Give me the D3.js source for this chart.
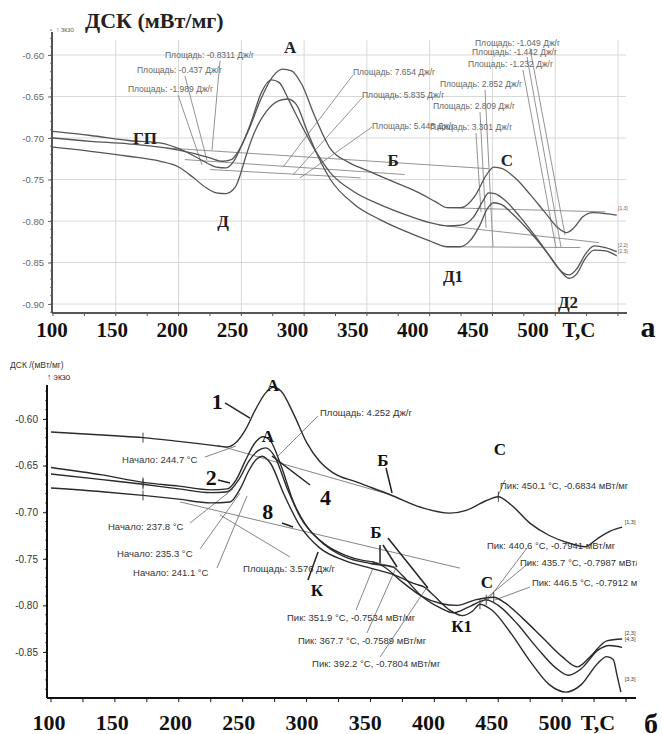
<!DOCTYPE html>
<html>
<head>
<meta charset="utf-8">
<script src="https://cdn.jsdelivr.net/npm/d3@7"></script>
<style>
  body { margin: 0; background: #fff; }
  svg { display: block; }
</style>
</head>
<body>
<svg id="chart" width="662" height="734"></svg>
<script>
// ---------- panel а (top) ----------
var topTicksT = [100, 150, 200, 250, 300, 350, 400, 450, 500];
var topTicksV = [-0.60, -0.65, -0.70, -0.75, -0.80, -0.85, -0.90];

var topCurveHi = [[100,-0.700],[130,-0.704],[160,-0.707],[190,-0.712],[210,-0.718],[225,-0.724],[235,-0.728],[242,-0.726],[248,-0.715],[256,-0.69],[265,-0.655],[275,-0.626],[283,-0.617],[290,-0.619],[298,-0.635],[308,-0.672],[321,-0.713],[335,-0.729],[350,-0.739],[370,-0.752],[390,-0.765],[405,-0.777],[414,-0.784],[425,-0.784],[436,-0.77],[445,-0.745],[451,-0.735],[458,-0.737],[468,-0.748],[480,-0.768],[492,-0.79],[502,-0.808],[509,-0.814],[515,-0.808],[522,-0.795],[530,-0.79],[540,-0.791],[549,-0.793]];
var topCurveMid = [[100,-0.692],[130,-0.697],[160,-0.703],[185,-0.706],[205,-0.716],[220,-0.728],[230,-0.735],[238,-0.736],[244,-0.728],[250,-0.71],[258,-0.68],[266,-0.645],[274,-0.630],[280,-0.633],[288,-0.655],[298,-0.685],[310,-0.718],[321,-0.742],[340,-0.765],[360,-0.78],[380,-0.792],[400,-0.802],[414,-0.806],[425,-0.805],[435,-0.795],[442,-0.777],[447,-0.766],[452,-0.767],[460,-0.775],[472,-0.795],[485,-0.82],[497,-0.845],[506,-0.862],[511,-0.865],[517,-0.858],[524,-0.84],[531,-0.83],[540,-0.832],[549,-0.837]];
var topCurveLow = [[100,-0.711],[130,-0.716],[160,-0.722],[185,-0.728],[200,-0.735],[212,-0.748],[222,-0.760],[230,-0.766],[238,-0.767],[243,-0.763],[246,-0.757],[249,-0.745],[253,-0.725],[260,-0.695],[270,-0.668],[280,-0.655],[287,-0.653],[294,-0.66],[302,-0.69],[312,-0.725],[321,-0.75],[340,-0.78],[360,-0.798],[380,-0.812],[400,-0.824],[414,-0.831],[424,-0.831],[432,-0.824],[440,-0.805],[446,-0.785],[451,-0.778],[457,-0.78],[465,-0.79],[478,-0.81],[492,-0.835],[503,-0.858],[511,-0.869],[517,-0.864],[524,-0.845],[531,-0.835],[540,-0.836],[549,-0.842]];

// integration baselines and leader lines [T1, v1, T2, v2]
var topGuides = [
  [190,-0.712,447,-0.737],[205,-0.726,380,-0.744],[225,-0.738,345,-0.748],
  [414,-0.784,540,-0.789],[414,-0.806,535,-0.826],[414,-0.831,520,-0.832],
  [233,-0.607,226.6,-0.7145],[205.1,-0.6253,222.6,-0.7265],[199.6,-0.6482,218.7,-0.7325],
  [338.9,-0.6241,283.2,-0.735],[346.1,-0.6518,291.1,-0.7446],[354.1,-0.6867,296.7,-0.7482],
  [444.1,-0.6422,450.4,-0.8313],[440.1,-0.6687,444.9,-0.8084],[436.9,-0.694,440.9,-0.7892],
  [479.9,-0.5916,507.8,-0.8169],[477.5,-0.6024,504.6,-0.8313],[474.3,-0.6181,500.6,-0.8325]
];
var topAreaText = ["Площадь: -0.8311 Дж/г","Площадь: -0.437 Дж/г","Площадь: -1.989 Дж/г",
  "Площадь: 7.654 Дж/г","Площадь: 5.835 Дж/г","Площадь: 5.445 Дж/г","Площадь: 3.301 Дж/г",
  "Площадь: 2.852 Дж/г","Площадь: 2.809 Дж/г",
  "Площадь: -1.049 Дж/г","Площадь: -1.442 Дж/г","Площадь: -1.232 Дж/г"];
var topAreaPos = [[189.2,-0.6036],[166.9,-0.6217],[159.7,-0.6446],
  [338.9,-0.6241],[346.1,-0.6518],[354.1,-0.6892],[400.3,-0.6904],
  [408.2,-0.6386],[402.6,-0.6651],
  [436.1,-0.5892],[433.7,-0.6000],[430.5,-0.6145]];
var topBigText = ["А","ГП","Б","С","Д","Д1","Д2"];
var topBigPos = [[288.8,-0.5904],[173.3,-0.700],[370.8,-0.7265],[461.6,-0.7265],[235.4,-0.800],[418.6,-0.8663],[510.2,-0.8976]];
var topEndText = ["[1,3]","[2,2]","[2,3]"];
var topEndPos = [[550,-0.787],[550,-0.831],[550,-0.838]];

// ---------- panel б (bottom) ----------
var botTicksT = [100, 150, 200, 250, 300, 350, 400, 450, 500];
var botTicksV = [-0.60, -0.65, -0.70, -0.75, -0.80, -0.85];

var botCurve1 = [[100,-0.614],[150,-0.618],[172,-0.620],[200,-0.624],[225,-0.628],[238,-0.630],[245,-0.625],[252,-0.612],[260,-0.590],[268,-0.572],[274,-0.566],[280,-0.570],[290,-0.595],[300,-0.625],[310,-0.645],[320,-0.657],[340,-0.668],[365,-0.681],[390,-0.695],[412,-0.701],[425,-0.698],[440,-0.688],[450,-0.6834],[460,-0.692],[475,-0.712],[490,-0.725],[505,-0.733],[518,-0.737],[528,-0.728],[538,-0.72],[547,-0.716]];
var botCurve2 = [[100,-0.652],[140,-0.660],[172,-0.668],[200,-0.672],[225,-0.676],[238,-0.675],[245,-0.665],[252,-0.645],[260,-0.625],[266,-0.619],[272,-0.624],[280,-0.65],[290,-0.69],[300,-0.715],[315,-0.735],[330,-0.746],[345,-0.752],[352,-0.7534],[360,-0.758],[375,-0.775],[390,-0.79],[405,-0.798],[418,-0.800],[432,-0.794],[446.5,-0.7912],[455,-0.797],[470,-0.815],[485,-0.835],[500,-0.855],[512,-0.866],[522,-0.855],[535,-0.838],[547,-0.836]];
var botCurve4 = [[100,-0.659],[140,-0.665],[172,-0.670],[200,-0.675],[225,-0.679],[238,-0.678],[247,-0.665],[255,-0.645],[262,-0.634],[268,-0.631],[275,-0.64],[285,-0.675],[295,-0.705],[310,-0.73],[330,-0.748],[350,-0.755],[367.7,-0.7589],[375,-0.768],[390,-0.79],[405,-0.803],[415,-0.808],[428,-0.801],[440.6,-0.7941],[450,-0.80],[465,-0.82],[480,-0.845],[495,-0.867],[505,-0.875],[515,-0.868],[528,-0.848],[537,-0.843],[547,-0.845]];
var botCurve8 = [[100,-0.674],[140,-0.678],[172,-0.682],[200,-0.686],[225,-0.690],[240,-0.689],[248,-0.675],[255,-0.655],[261,-0.643],[265,-0.640],[272,-0.648],[282,-0.68],[295,-0.715],[310,-0.738],[330,-0.752],[350,-0.760],[370,-0.768],[385,-0.777],[392.2,-0.7804],[400,-0.79],[412,-0.805],[422,-0.811],[430,-0.806],[435.7,-0.7987],[445,-0.805],[460,-0.83],[475,-0.86],[490,-0.885],[503,-0.893],[515,-0.885],[528,-0.862],[535,-0.855],[540,-0.858],[543,-0.875],[546,-0.893]];

var botGuides = [
  [230,-0.628,365,-0.681],[201,-0.689,420,-0.760],[352,-0.7534,370,-0.759],
  [220.5,-0.6408,244.8,-0.629],[208.8,-0.7116,242.4,-0.6751],[216.6,-0.7395,247.9,-0.6794],[229.9,-0.76,253.4,-0.6826],
  [308.9,-0.5968,276.9,-0.6408],[287,-0.748,232.3,-0.703],
  [455.3,-0.6654,449.8,-0.6826],
  [472.5,-0.7384,441.2,-0.7953],[474.9,-0.7534,436.1,-0.7974],[474.9,-0.7803,447.3,-0.7942],
  [338.7,-0.805,352.0,-0.7599],[347.3,-0.8296,369.2,-0.762],[357.5,-0.8554,394.3,-0.7803]
];
var botDarkGuides = [
  [236.2,-0.5828,255.7,-0.599],[230.7,-0.6654,240.1,-0.6686],[302.7,-0.6708,272.9,-0.6397],[280.8,-0.7116,289.4,-0.7159],
  [362.2,-0.6526,366.9,-0.6794],[357.5,-0.7352,357.5,-0.7545],[359.8,-0.7352,370.8,-0.7588],[363.7,-0.7277,395.0,-0.7813],
  [301.1,-0.7727,309.0,-0.7427]
];
var botNoteText = ["Начало: 244.7 °C","Начало: 237.8 °C","Начало: 235.3 °C","Начало: 241.1 °C",
  "Площадь: 4.252 Дж/г","Площадь: 3.576 Дж/г",
  "Пик: 450.1 °C, -0.6834 мВт/мг","Пик: 440.6 °C, -0.7941 мВт/мг","Пик: 435.7 °C, -0.7987 мВт/мг","Пик: 446.5 °C, -0.7912 мВт/мг",
  "Пик: 351.9 °C, -0.7534 мВт/мг","Пик: 367.7 °C, -0.7589 мВт/мг","Пик: 392.2 °C, -0.7804 мВт/мг"];
var botNotePos = [[155.6,-0.6472],[144.6,-0.7191],[151.7,-0.7481],[164.2,-0.7685],
  [310.5,-0.5968],[250.3,-0.7642],
  [451.4,-0.6751],[441.2,-0.7395],[467.0,-0.7577],[476.4,-0.7792],
  [284.7,-0.8167],[293.3,-0.8414],[304.3,-0.8661]];
var botBigText = ["А","А","1","2","4","8","Б","Б","С","С","К","К1"];
var botBigPos = [[273.7,-0.5632],[269.7,-0.6182],[230.1,-0.5805],[225.4,-0.6622],[314.9,-0.6837],[269.7,-0.6987],
  [359.8,-0.6440],[354.3,-0.7212],[451.4,-0.6322],[441.2,-0.7749],[308.2,-0.7835],[421.3,-0.8219]];
var botEndText = ["[1,3]","[2,3]","[4,3]","[3,3]"];
var botEndPos = [[549,-0.713],[549,-0.832],[549,-0.838],[549,-0.881]];
var botMarks = [[172,-0.620],[172,-0.668],[172,-0.670],[172,-0.682],[450.1,-0.6834],[446.5,-0.7912],[440.6,-0.7941],[435.7,-0.7987]];

var fmt = function(d) { return d.toFixed(2); };
var svg = d3.select("#chart");

// ---------- scales ----------
var xA = d3.scaleLinear().domain([100, 550]).range([53, 618]);
var yA = d3.scaleLinear().domain([-0.90, -0.60]).range([304, 55]);
var xLabA = d3.scaleLinear().domain([100, 500]).range([52, 533]);
var xB = d3.scaleLinear().domain([100, 550]).range([51, 626]);
var yB = d3.scaleLinear().domain([-0.85, -0.60]).range([652, 419]);
var xLabB = d3.scaleLinear().domain([100, 500]).range([49, 555]);

// ======== panel а ========
var gA = svg.append("g");
var axisLeftA = 52, axisBottomA = 313;

// grid
gA.append("g").selectAll("line").data(topTicksT.slice(1).concat([550])).join("line")
  .attr("x1", function(d) { return xA(d); }).attr("x2", function(d) { return xA(d); })
  .attr("y1", 40).attr("y2", axisBottomA)
  .attr("stroke", "#d8d8d8").attr("stroke-width", 1);
gA.append("g").selectAll("line").data(topTicksV).join("line")
  .attr("x1", axisLeftA).attr("x2", 626)
  .attr("y1", function(d) { return yA(d); }).attr("y2", function(d) { return yA(d); })
  .attr("stroke", "#d8d8d8").attr("stroke-width", 1);

// y axis
var yAxisA = gA.append("g").attr("transform", "translate(" + axisLeftA + ",0)")
  .call(d3.axisLeft(yA).tickValues(topTicksV).tickFormat(fmt).tickSize(4));
yAxisA.select(".domain").remove();
yAxisA.selectAll("text").attr("font-family", "Liberation Sans, Arial").attr("font-size", 9.5).attr("fill", "#666").attr("dx", -1);
yAxisA.selectAll("line").attr("stroke", "#666");
gA.append("g").selectAll("line").data(d3.range(-0.91, -0.565, 0.01)).join("line")
  .attr("x1", axisLeftA - 2).attr("x2", axisLeftA)
  .attr("y1", function(d) { return yA(d); }).attr("y2", function(d) { return yA(d); })
  .attr("stroke", "#666").attr("stroke-width", 0.8);
gA.append("line").attr("x1", axisLeftA).attr("x2", axisLeftA).attr("y1", 32).attr("y2", axisBottomA)
  .attr("stroke", "#555").attr("stroke-width", 2);

// x axis
gA.append("line").attr("x1", axisLeftA).attr("x2", 627).attr("y1", axisBottomA).attr("y2", axisBottomA)
  .attr("stroke", "#555").attr("stroke-width", 2);
gA.append("g").selectAll("line").data(d3.range(100, 551, 25)).join("line")
  .attr("x1", function(d) { return xA(d); }).attr("x2", function(d) { return xA(d); })
  .attr("y1", axisBottomA).attr("y2", axisBottomA + 3)
  .attr("stroke", "#555").attr("stroke-width", 1);
gA.append("g").selectAll("text").data(topTicksT).join("text")
  .attr("x", function(d) { return xLabA(d); }).attr("y", 337)
  .attr("text-anchor", "middle").attr("font-family", "Liberation Serif, Times New Roman, serif")
  .attr("font-weight", "bold").attr("font-size", 21).attr("fill", "#111")
  .text(function(d) { return d; });
gA.append("text").attr("x", 579).attr("y", 337).attr("text-anchor", "middle")
  .attr("font-family", "Liberation Serif, serif").attr("font-weight", "bold").attr("font-size", 21).attr("fill", "#111")
  .text("T,C");
gA.append("text").attr("x", 648).attr("y", 337).attr("text-anchor", "middle")
  .attr("font-family", "Liberation Serif, serif").attr("font-weight", "bold").attr("font-size", 30).attr("fill", "#111")
  .text("а");

// title
gA.append("text").attr("x", 85).attr("y", 28)
  .attr("font-family", "Liberation Serif, serif").attr("font-weight", "bold").attr("font-size", 22).attr("fill", "#222")
  .text("ДСК (мВт/мг)");
gA.append("text").attr("x", 56).attr("y", 32)
  .attr("font-family", "Liberation Sans, Arial").attr("font-size", 6.5).attr("fill", "#666")
  .text("↑ экзо");

// guides
gA.append("g").selectAll("line").data(topGuides).join("line")
  .attr("x1", function(d) { return xA(d[0]); }).attr("y1", function(d) { return yA(d[1]); })
  .attr("x2", function(d) { return xA(d[2]); }).attr("y2", function(d) { return yA(d[3]); })
  .attr("stroke", "#888").attr("stroke-width", 0.9);

// curves
var lineA = d3.line().x(function(d) { return xA(d[0]); }).y(function(d) { return yA(d[1]); }).curve(d3.curveMonotoneX);
gA.append("g").selectAll("path").data([topCurveHi, topCurveMid, topCurveLow]).join("path")
  .attr("d", lineA).attr("fill", "none").attr("stroke", "#555").attr("stroke-width", 1.3);

// texts
gA.append("g").selectAll("text").data(topAreaText).join("text")
  .attr("x", function(d, i) { return xA(topAreaPos[i][0]); })
  .attr("y", function(d, i) { return yA(topAreaPos[i][1]); })
  .attr("font-family", "Liberation Sans, Arial").attr("font-size", 8.5).attr("fill", "#666")
  .text(function(d) { return d; });
gA.append("g").selectAll("text").data(topBigText).join("text")
  .attr("x", function(d, i) { return xA(topBigPos[i][0]); })
  .attr("y", function(d, i) { return yA(topBigPos[i][1]); })
  .attr("dy", "0.35em").attr("text-anchor", "middle")
  .attr("font-family", "Liberation Serif, serif").attr("font-weight", "bold").attr("font-size", 17).attr("fill", "#222")
  .text(function(d) { return d; });
gA.append("g").selectAll("text").data(topEndText).join("text")
  .attr("x", function(d, i) { return xA(topEndPos[i][0]); })
  .attr("y", function(d, i) { return yA(topEndPos[i][1]); })
  .attr("font-family", "Liberation Sans, Arial").attr("font-size", 5).attr("fill", "#666")
  .text(function(d) { return d; });

// ======== panel б ========
var gB = svg.append("g");
var axisLeftB = 47, axisBottomB = 698;

var yAxisB = gB.append("g").attr("transform", "translate(" + axisLeftB + ",0)")
  .call(d3.axisLeft(yB).tickValues(botTicksV).tickFormat(fmt).tickSize(4));
yAxisB.select(".domain").remove();
yAxisB.selectAll("text").attr("font-family", "Liberation Sans, Arial").attr("font-size", 10).attr("fill", "#333").attr("dx", -2);
yAxisB.selectAll("line").attr("stroke", "#222");
gB.append("g").selectAll("line").data(d3.range(-0.89, -0.565, 0.01)).join("line")
  .attr("x1", axisLeftB - 2).attr("x2", axisLeftB)
  .attr("y1", function(d) { return yB(d); }).attr("y2", function(d) { return yB(d); })
  .attr("stroke", "#333").attr("stroke-width", 0.7);
gB.append("line").attr("x1", axisLeftB).attr("x2", axisLeftB).attr("y1", 385).attr("y2", axisBottomB)
  .attr("stroke", "#111").attr("stroke-width", 2);
gB.append("line").attr("x1", axisLeftB).attr("x2", 636).attr("y1", axisBottomB).attr("y2", axisBottomB)
  .attr("stroke", "#111").attr("stroke-width", 2);
gB.append("g").selectAll("line").data(d3.range(100, 551, 25)).join("line")
  .attr("x1", function(d) { return xB(d); }).attr("x2", function(d) { return xB(d); })
  .attr("y1", axisBottomB).attr("y2", axisBottomB + 4)
  .attr("stroke", "#111").attr("stroke-width", 1);
gB.append("g").selectAll("text").data(botTicksT).join("text")
  .attr("x", function(d) { return xLabB(d); }).attr("y", 730)
  .attr("text-anchor", "middle").attr("font-family", "Liberation Serif, Times New Roman, serif")
  .attr("font-weight", "bold").attr("font-size", 22).attr("fill", "#111")
  .text(function(d) { return d; });
gB.append("text").attr("x", 598).attr("y", 730).attr("text-anchor", "middle")
  .attr("font-family", "Liberation Serif, serif").attr("font-weight", "bold").attr("font-size", 22).attr("fill", "#111")
  .text("T,C");
gB.append("text").attr("x", 651).attr("y", 733).attr("text-anchor", "middle")
  .attr("font-family", "Liberation Serif, serif").attr("font-weight", "bold").attr("font-size", 28).attr("fill", "#111")
  .text("б");
gB.append("text").attr("x", 10).attr("y", 368)
  .attr("font-family", "Liberation Sans, Arial").attr("font-size", 8.5).attr("fill", "#333")
  .text("ДСК /(мВт/мг)");
gB.append("text").attr("x", 47).attr("y", 380)
  .attr("font-family", "Liberation Sans, Arial").attr("font-size", 8.5).attr("fill", "#333")
  .text("↑ экзо");

// clip for texts that run off the right edge
svg.append("clipPath").attr("id", "clipB").append("rect")
  .attr("x", 0).attr("y", 340).attr("width", 637).attr("height", 394);

gB.append("g").selectAll("line").data(botGuides).join("line")
  .attr("x1", function(d) { return xB(d[0]); }).attr("y1", function(d) { return yB(d[1]); })
  .attr("x2", function(d) { return xB(d[2]); }).attr("y2", function(d) { return yB(d[3]); })
  .attr("stroke", "#777").attr("stroke-width", 0.9);
gB.append("g").selectAll("line").data(botDarkGuides).join("line")
  .attr("x1", function(d) { return xB(d[0]); }).attr("y1", function(d) { return yB(d[1]); })
  .attr("x2", function(d) { return xB(d[2]); }).attr("y2", function(d) { return yB(d[3]); })
  .attr("stroke", "#222").attr("stroke-width", 1.5);

var lineB = d3.line().x(function(d) { return xB(d[0]); }).y(function(d) { return yB(d[1]); }).curve(d3.curveMonotoneX);
gB.append("g").selectAll("path").data([botCurve1, botCurve2, botCurve4, botCurve8]).join("path")
  .attr("d", lineB).attr("fill", "none").attr("stroke", "#2a2a2a").attr("stroke-width", 1.4);
gB.append("g").selectAll("line").data(botMarks).join("line")
  .attr("x1", function(d) { return xB(d[0]); }).attr("x2", function(d) { return xB(d[0]); })
  .attr("y1", function(d) { return yB(d[1]) - 5; }).attr("y2", function(d) { return yB(d[1]) + 5; })
  .attr("stroke", "#333").attr("stroke-width", 0.9);

gB.append("g").attr("clip-path", "url(#clipB)").selectAll("text").data(botNoteText).join("text")
  .attr("x", function(d, i) { return xB(botNotePos[i][0]); })
  .attr("y", function(d, i) { return yB(botNotePos[i][1]); })
  .attr("font-family", "Liberation Sans, Arial").attr("font-size", 9.5).attr("fill", "#333")
  .text(function(d) { return d; });
gB.append("g").selectAll("text").data(botBigText).join("text")
  .attr("x", function(d, i) { return xB(botBigPos[i][0]); })
  .attr("y", function(d, i) { return yB(botBigPos[i][1]); })
  .attr("dy", "0.35em").attr("text-anchor", "middle")
  .attr("font-family", "Liberation Serif, serif").attr("font-weight", "bold")
  .attr("font-size", function(d) { return /[0-9]/.test(d) && d.length === 1 ? 22 : 17; })
  .attr("fill", "#111")
  .text(function(d) { return d; });
gB.append("g").selectAll("text").data(botEndText).join("text")
  .attr("x", function(d, i) { return xB(botEndPos[i][0]); })
  .attr("y", function(d, i) { return yB(botEndPos[i][1]); })
  .attr("font-family", "Liberation Sans, Arial").attr("font-size", 5.5).attr("fill", "#333")
  .text(function(d) { return d; });
</script>
</body>
</html>
